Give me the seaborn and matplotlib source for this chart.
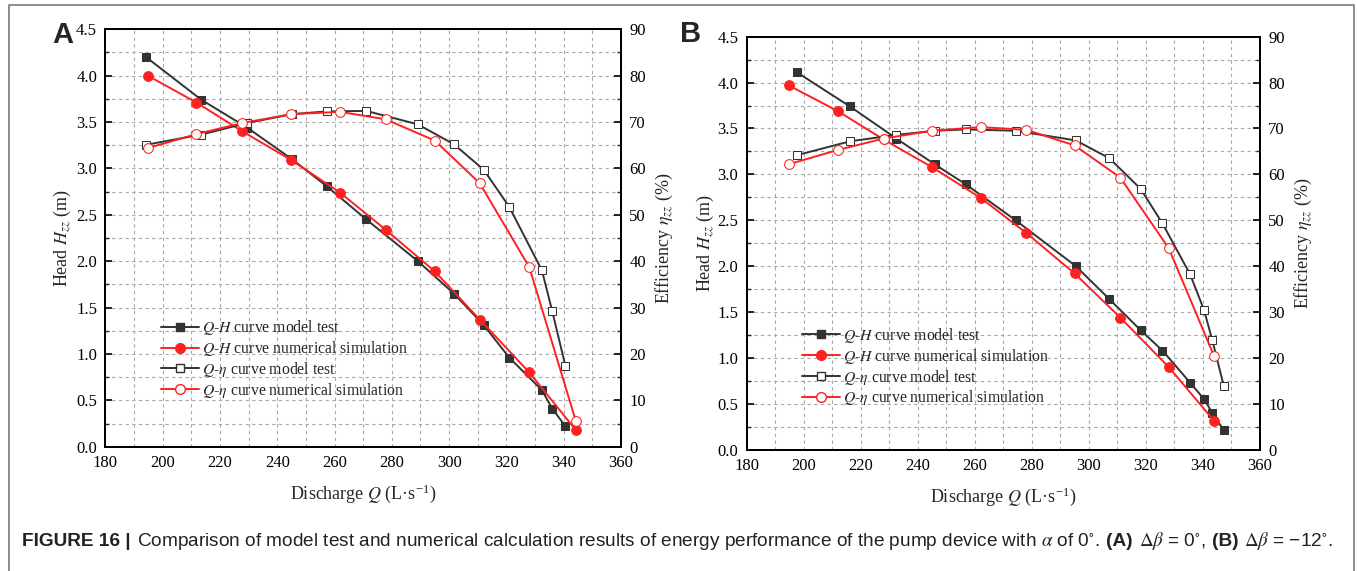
import numpy as np
import pandas as pd
import seaborn as sns
import matplotlib.pyplot as plt
from matplotlib.lines import Line2D

# ---- data ----
# panel A (d_beta = 0)
qa_test = [194.2, 213.5, 229.5, 245.1, 257.2, 271.1, 289.1, 301.7, 312.1, 321.0, 332.4, 336.0, 340.6]
ha_test = [4.20, 3.74, 3.44, 3.10, 2.81, 2.45, 2.00, 1.65, 1.31, 0.96, 0.61, 0.41, 0.22]
ea_test = [65.1, 67.3, 69.8, 71.7, 72.3, 72.4, 69.5, 65.2, 59.7, 51.7, 38.0, 29.2, 17.4]
qa_sim = [194.8, 211.8, 227.8, 244.9, 261.9, 277.8, 295.0, 310.7, 328.0, 344.2]
ha_sim = [4.00, 3.71, 3.40, 3.09, 2.74, 2.34, 1.89, 1.37, 0.80, 0.18]
ea_sim = [64.4, 67.4, 69.8, 71.7, 72.2, 70.6, 66.0, 56.8, 38.7, 5.6]

# panel B (d_beta = -12)
qb_test = [197.7, 216.2, 232.5, 245.9, 256.9, 274.3, 295.4, 307.2, 318.2, 325.8, 335.5, 340.4, 343.3, 347.3]
hb_test = [4.11, 3.74, 3.39, 3.11, 2.89, 2.50, 2.00, 1.64, 1.30, 1.08, 0.73, 0.55, 0.40, 0.21]
eb_test = [64.2, 67.2, 68.6, 69.5, 69.8, 69.5, 67.4, 63.5, 56.8, 49.3, 38.2, 30.4, 23.8, 13.9]
qb_sim = [194.7, 211.9, 228.0, 244.9, 262.0, 278.1, 295.0, 311.0, 328.0, 343.9]
hb_sim = [3.97, 3.69, 3.38, 3.08, 2.745, 2.36, 1.92, 1.44, 0.90, 0.315]
eb_sim = [62.2, 65.3, 67.8, 69.5, 70.3, 69.7, 66.3, 59.3, 43.9, 20.4]

sns.set_style('white')
plt.rcParams['font.family'] = ['Liberation Serif', 'DejaVu Serif']
plt.rcParams['mathtext.fontset'] = 'stix'

BLACK = '#333333'
RED = '#ff2020'
FS = 12

fig = plt.figure(figsize=(13.57, 5.71), dpi=100)
W, H = 1357, 571


def px_axes(l, r, t, b):
    return fig.add_axes([l / W, 1 - b / H, (r - l) / W, (b - t) / H])


def draw_panel(ax, q_t, h_t, e_t, q_s, h_s, e_s, leg_anchor, lpad_left, lpad_right):
    ax2 = ax.twinx()
    d_t = pd.DataFrame({'Q': q_t, 'H': h_t, 'eta': e_t})
    d_s = pd.DataFrame({'Q': q_s, 'H': h_s, 'eta': e_s})

    sns.lineplot(data=d_t, x='Q', y='H', ax=ax, color=BLACK, marker='s', markersize=6,
                 markeredgecolor=BLACK, lw=1.4, sort=False, legend=False, zorder=3)
    sns.lineplot(data=d_s, x='Q', y='H', ax=ax, color=RED, marker='o', markersize=7,
                 markeredgecolor=RED, lw=1.4, sort=False, legend=False, zorder=4)
    sns.lineplot(data=d_t, x='Q', y='eta', ax=ax2, color=BLACK, marker='s', markersize=6,
                 markerfacecolor='white', markeredgecolor=BLACK, lw=1.4, sort=False, legend=False, zorder=3)
    sns.lineplot(data=d_s, x='Q', y='eta', ax=ax2, color=RED, marker='o', markersize=7,
                 markerfacecolor='white', markeredgecolor=RED, lw=1.4, sort=False, legend=False, zorder=4)

    ax.set_xlim(180, 360)
    ax.set_ylim(0, 4.5)
    ax2.set_ylim(0, 90)
    ax.set_xticks(np.arange(180, 361, 20))
    ax.set_xticks(np.arange(190, 360, 20), minor=True)
    ax.set_yticks(np.arange(0, 4.51, 0.5))
    ax.set_yticks(np.arange(0.25, 4.5, 0.5), minor=True)
    ax2.set_yticks(np.arange(0, 91, 10))
    ax2.set_yticks(np.arange(5, 90, 10), minor=True)
    ax.set_xticklabels([str(v) for v in range(180, 361, 20)])
    ax.set_yticklabels(['%.1f' % v for v in np.arange(0, 4.51, 0.5)])

    ax.grid(which='both', color='#a8a8a8', ls=(0, (3, 3)), lw=0.8)
    ax.set_axisbelow(True)
    for a in (ax, ax2):
        for s in a.spines.values():
            s.set_color('black')
            s.set_linewidth(1.4)
        a.tick_params(which='major', direction='in', length=5, width=1.2, labelsize=FS, colors='black', pad=6)
        a.tick_params(which='minor', direction='in', length=3, width=1.0)
    ax.tick_params(top=False, right=False)

    ax.set_xlabel('Discharge $Q$ (L·s$^{\\mathregular{-1}}$)', fontsize=FS + 1, labelpad=8)
    ax.set_ylabel('Head $H_{zz}$ (m)', fontsize=FS + 1, labelpad=lpad_left)
    ax2.set_ylabel('Efficiency $\\eta_{zz}$ (%)', fontsize=FS + 1, labelpad=lpad_right)

    handles = [
        Line2D([], [], color=BLACK, lw=1.4, marker='s', ms=6),
        Line2D([], [], color=RED, lw=1.4, marker='o', ms=7),
        Line2D([], [], color=BLACK, lw=1.4, marker='s', ms=6, mfc='white'),
        Line2D([], [], color=RED, lw=1.4, marker='o', ms=7, mfc='white'),
    ]
    labels = ['$Q$-$H$ curve model test', '$Q$-$H$ curve numerical simulation',
              '$Q$-$\\eta$ curve model test', '$Q$-$\\eta$ curve numerical simulation']
    ax2.legend(handles, labels, loc='upper left', bbox_to_anchor=leg_anchor, frameon=False,
               fontsize=11.3, handlelength=2.4, handletextpad=0.2, labelspacing=0.12,
               borderaxespad=0, borderpad=0)
    return ax2


axA = px_axes(105.4, 621, 29.3, 446.7)
draw_panel(axA, qa_test, ha_test, ea_test, qa_sim, ha_sim, ea_sim, (0.108, 0.308), 2, 6)
axB = px_axes(746.7, 1260, 36.7, 449.7)
draw_panel(axB, qb_test, hb_test, eb_test, qb_sim, hb_sim, eb_sim, (0.108, 0.300), 1, 6)

fig.text(52 / W, 1 - 35 / H, 'A', fontsize=21, fontweight='bold', family='Liberation Sans', va='center')
fig.text(680 / W, 1 - 34 / H, 'B', fontsize=21, fontweight='bold', family='Liberation Sans', va='center')

# frame around the figure
fig.add_artist(Line2D([9 / W, 9 / W, 1354 / W, 1354 / W], [0, 1 - 5 / H, 1 - 5 / H, 0],
                      transform=fig.transFigure, color='#7a7a7a', lw=1.2))

# caption, drawn piece by piece so some parts can be bold
pieces = [
    ('FIGURE 16 |', 'bold'),
    ('Comparison of model test and numerical calculation results of energy performance of the pump device with $\\alpha$ of 0$^{\\circ}$.', 'normal'),
    ('(A)', 'bold'),
    ('$\\Delta\\beta$ = 0$^{\\circ}$,', 'normal'),
    ('(B)', 'bold'),
    ('$\\Delta\\beta$ = \u221212$^{\\circ}$.', 'normal'),
]


def put_caption(fs):
    fig.canvas.draw()
    renderer = fig.canvas.get_renderer()
    x = 22.0
    made = []
    for txt, wt in pieces:
        t = fig.text(x / W, 1 - 541 / H, txt, fontsize=fs, fontweight=wt, family='Liberation Sans',
                     va='center', ha='left', color='#222222')
        made.append(t)
        x += t.get_window_extent(renderer).width + fs * 0.45
    return made, x - 22.0


made, width = put_caption(11)
for t in made:
    t.remove()
put_caption(11 * 1318 / width)

fig.savefig('out.png', dpi=100)
